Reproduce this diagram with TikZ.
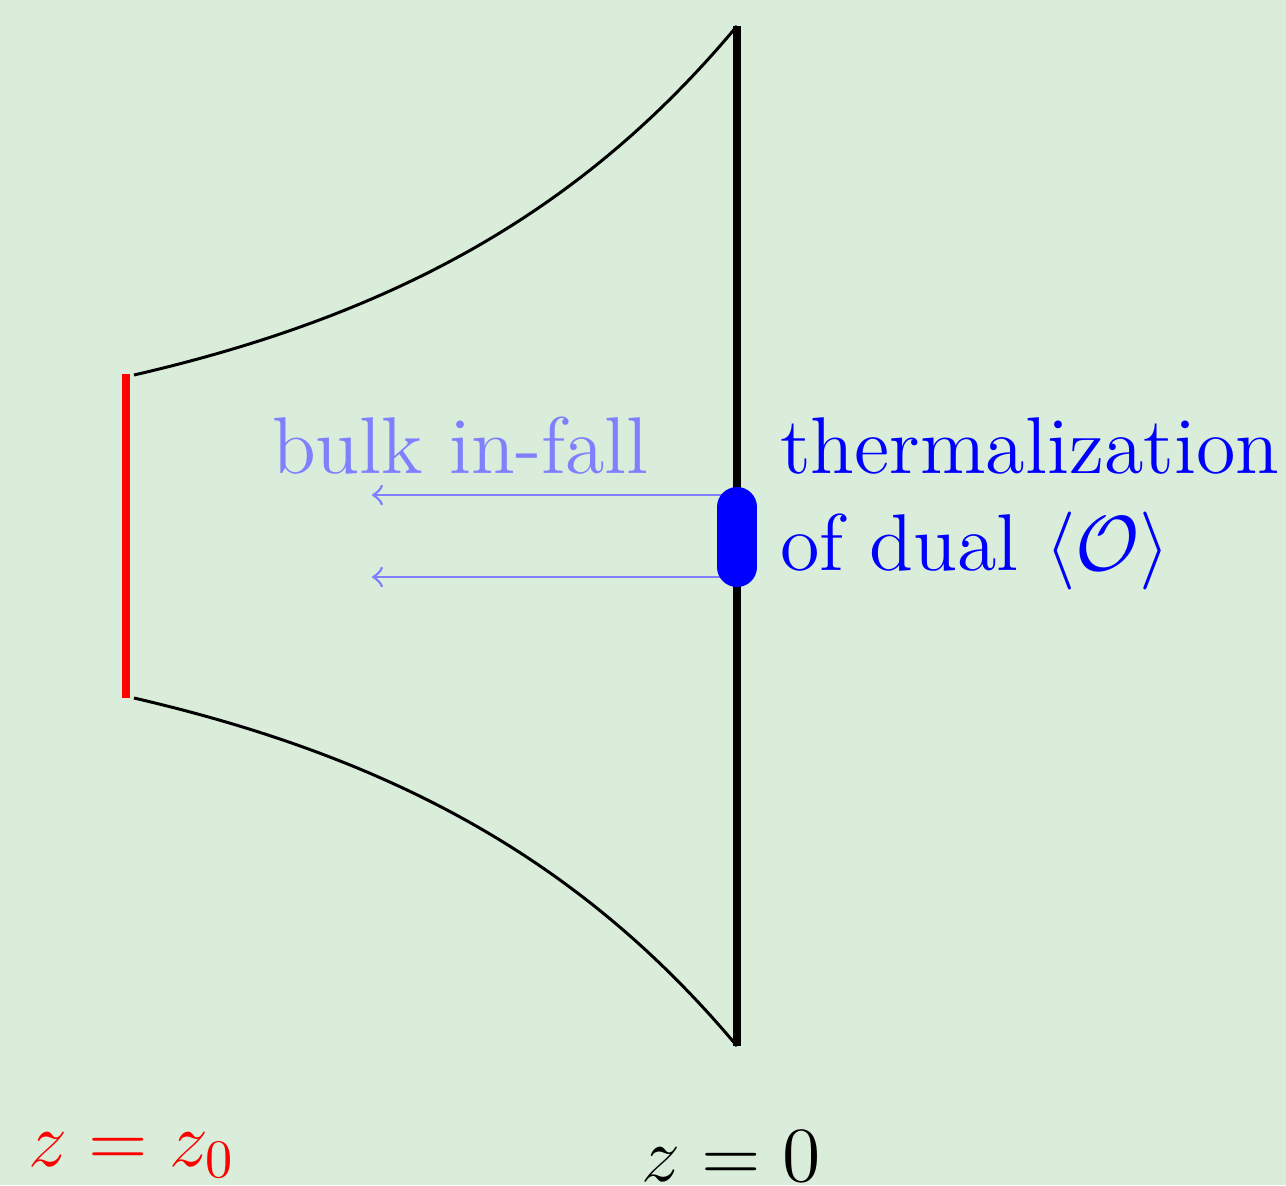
\documentclass[tikz,border=0pt]{standalone}
\definecolor{bgc}{RGB}{217,237,218}
\begin{document}
\begin{tikzpicture}[x=0.1845pt,y=-0.1845pt,
  lbl/.style={font=\fontsize{14.85}{18}\selectfont,inner sep=0pt,anchor=base west},
  boundary/.style={line width=1.5pt,black},
  cutoff/.style={line width=1.65pt,red},
  wall/.style={line width=0.55pt,black},
  infall/.style={line width=0.5pt,blue!50,->},
  blobstyle/.style={line width=7.38pt,blue,line cap=round}]
\fill[bgc] (0,0) rectangle (1286,1185);
\useasboundingbox (0,0) rectangle (1286,1185);
% coordinates
\coordinate (bt) at (737,26);
\coordinate (bb) at (737,1046);
\coordinate (rt) at (126,374);
\coordinate (rb) at (126,698);
\coordinate (ct) at (134,375);
\coordinate (cb) at (134,698);
\coordinate (a1s) at (737,495);
\coordinate (a1e) at (372,495);
\coordinate (a2s) at (737,577);
\coordinate (a2e) at (372,577);
\coordinate (blobt) at (737,507);
\coordinate (blobb) at (737,567);
% boundary and cutoff
\draw[boundary] (bt) -- (bb);
\draw[cutoff] (rt) -- (rb);
\draw[wall] (ct) .. controls (406.7,312) and (589.1,203.2) .. (bt);
\draw[wall] (cb) .. controls (406.7,761) and (589.1,869.8) .. (bb);
% arrows
\draw[infall] (a1s) -- (a1e);
\draw[infall] (a2s) -- (a2e);
\draw[blobstyle] (blobt) -- (blobb);
% labels
\node[lbl,text=blue!50] (bulk) at (271,473) {bulk in-fall};
\node[lbl,text=blue] (therm) at (779,473) {thermalization};
\node[lbl,text=blue] (dual) at (779,570) {of dual $\langle\mathcal{O}\rangle$};
\node[lbl,text=red] (zz0) at (27,1166) {$z=z_0$};
\node[lbl,text=black] (z0) at (640,1181) {$z=0$};
\end{tikzpicture}
\end{document}
